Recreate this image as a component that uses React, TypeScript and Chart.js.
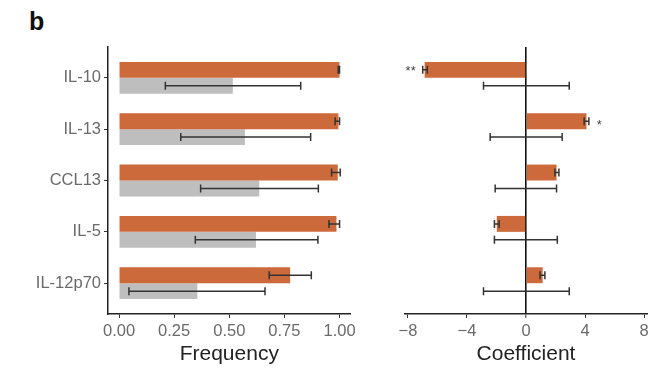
import React, { useEffect, useRef } from 'react';
import { Chart, registerables } from 'chart.js';

Chart.register(...registerables);

const cytokines = ['IL-10', 'IL-13', 'CCL13', 'IL-5', 'IL-12p70'];

const freqCase = [1.0, 0.995, 0.992, 0.986, 0.776];
const freqCaseLo = [0.994, 0.98, 0.964, 0.952, 0.681];
const freqCaseHi = [1.0, 1.0, 1.003, 1.0, 0.872];
const freqCtrl = [0.516, 0.571, 0.636, 0.621, 0.355];
const freqCtrlLo = [0.21, 0.28, 0.37, 0.346, 0.045];
const freqCtrlHi = [0.824, 0.869, 0.904, 0.902, 0.662];

const coefCase = [-6.87, 4.1, 2.07, -1.98, 1.13];
const coefCaseLo = [-7.0, 3.94, 1.96, -2.14, 0.95];
const coefCaseHi = [-6.69, 4.26, 2.23, -1.82, 1.28];
const coefCtrl = [0, 0, 0, 0, 0];
const coefCtrlLo = [-2.88, -2.43, -2.09, -2.14, -2.88];
const coefCtrlHi = [2.93, 2.45, 2.07, 2.12, 2.93];
const significance = ['**', '*', '', '', ''];

const freqTicks = [0, 0.25, 0.5, 0.75, 1];
const coefTicks = [-8, -4, 0, 4, 8];

const ORANGE = '#CC6A3C';
const GREY = '#BEBEBE';
const ERR = '#333333';
const FONT = '"Liberation Sans", Arial, Helvetica, sans-serif';
const TICK_COLOR = '#6a6a6a';
const TICK_SIZE = 16.5;
const TITLE_SIZE = 21;

const errorBarPlugin = {
  id: 'errorBars',
  afterDatasetsDraw(chart: any) {
    const ctx = chart.ctx;
    const xs = chart.scales.x;
    chart.data.datasets.forEach((ds: any, i: number) => {
      if (!ds.errLo) return;
      const meta = chart.getDatasetMeta(i);
      meta.data.forEach((bar: any, j: number) => {
        const y = bar.y;
        const x1 = xs.getPixelForValue(ds.errLo[j]);
        const x2 = xs.getPixelForValue(ds.errHi[j]);
        ctx.save();
        ctx.strokeStyle = ERR;
        ctx.lineWidth = 1.5;
        ctx.beginPath();
        ctx.moveTo(x1, y);
        ctx.lineTo(x2, y);
        ctx.moveTo(x1, y - 4);
        ctx.lineTo(x1, y + 4);
        ctx.moveTo(x2, y - 4);
        ctx.lineTo(x2, y + 4);
        ctx.stroke();
        if (ds.sig && ds.sig[j]) {
          ctx.fillStyle = '#444';
          ctx.font = `13px ${FONT}`;
          ctx.textBaseline = 'middle';
          const v = ds.data[j].x;
          if (v < 0) {
            ctx.textAlign = 'right';
            ctx.fillText(ds.sig[j], Math.min(x1, x2) - 7, y + 2);
          } else {
            ctx.textAlign = 'left';
            ctx.fillText(ds.sig[j], Math.max(x1, x2) + 8, y + 4);
          }
        }
        ctx.restore();
      });
    });
  },
};

function yScale(display: boolean) {
  return {
    type: 'linear' as const,
    reverse: true,
    min: -0.6,
    max: 4.6,
    offset: false,
    display,
    afterBuildTicks: (s: any) => {
      s.ticks = cytokines.map((_, i) => ({ value: i }));
    },
    afterFit: (s: any) => {
      if (display) s.width = 108;
    },
    ticks: {
      callback: (v: any) => cytokines[v] ?? '',
      color: TICK_COLOR,
      font: { size: TICK_SIZE, family: FONT },
      padding: 3,
    },
    grid: {
      display: true,
      offset: false,
      drawOnChartArea: false,
      drawTicks: true,
      tickLength: 4,
      tickColor: '#333',
      tickWidth: 1,
    },
    border: { display: true, color: '#222', width: 1.5 },
  };
}

function xScale(min: number, max: number, tickVals: number[], fmt: (v: number) => string, title: string, zeroLine: boolean) {
  return {
    type: 'linear' as const,
    min,
    max,
    offset: false,
    z: zeroLine ? 1 : 0,
    afterBuildTicks: (s: any) => {
      s.ticks = tickVals.map((v) => ({ value: v }));
    },
    afterFit: (s: any) => {
      s.height = 56;
    },
    ticks: {
      callback: (v: any) => fmt(Number(v)),
      color: TICK_COLOR,
      font: { size: TICK_SIZE, family: FONT },
      padding: 4,
      maxRotation: 0,
      autoSkip: false,
    },
    grid: {
      display: true,
      offset: false,
      drawOnChartArea: zeroLine,
      drawTicks: true,
      tickLength: 4,
      tickColor: '#333',
      tickWidth: 1,
      color: (c: any) => (zeroLine && c.tick && c.tick.value === 0 ? '#111' : 'rgba(0,0,0,0)'),
      lineWidth: (c: any) => (zeroLine && c.tick && c.tick.value === 0 ? 1.6 : 1),
    },
    border: { display: true, color: '#222', width: 1.5 },
    title: {
      display: true,
      text: title,
      color: '#222',
      font: { size: TITLE_SIZE, family: FONT },
      padding: { top: 0, bottom: 3 },
    },
  };
}

function FreqChart() {
  const ref = useRef<HTMLCanvasElement>(null);
  useEffect(() => {
    if (!ref.current) return;
    const chart = new Chart(ref.current, {
      type: 'bar',
      data: {
        datasets: [
          {
            data: freqCase.map((v, i) => ({ x: v, y: i })),
            backgroundColor: ORANGE,
            borderWidth: 0,
            errLo: freqCaseLo,
            errHi: freqCaseHi,
          } as any,
          {
            data: freqCtrl.map((v, i) => ({ x: v, y: i })),
            backgroundColor: GREY,
            borderWidth: 0,
            errLo: freqCtrlLo,
            errHi: freqCtrlHi,
          } as any,
        ],
      },
      options: {
        indexAxis: 'y',
        animation: false,
        responsive: true,
        maintainAspectRatio: false,
        categoryPercentage: 0.62,
        barPercentage: 1.0,
        layout: { padding: { top: 47, right: 9, left: 0, bottom: 0 } },
        plugins: { legend: { display: false }, tooltip: { enabled: false } },
        scales: {
          x: xScale(-0.05, 1.05, freqTicks, (v) => v.toFixed(2), 'Frequency', false) as any,
          y: yScale(true) as any,
        },
      } as any,
      plugins: [errorBarPlugin],
    });
    return () => chart.destroy();
  }, []);
  return <canvas ref={ref} />;
}

function CoefChart() {
  const ref = useRef<HTMLCanvasElement>(null);
  useEffect(() => {
    if (!ref.current) return;
    const chart = new Chart(ref.current, {
      type: 'bar',
      data: {
        datasets: [
          {
            data: coefCase.map((v, i) => ({ x: v, y: i })),
            backgroundColor: ORANGE,
            borderWidth: 0,
            errLo: coefCaseLo,
            errHi: coefCaseHi,
            sig: significance,
          } as any,
          {
            data: coefCtrl.map((v, i) => ({ x: v, y: i })),
            backgroundColor: GREY,
            borderWidth: 0,
            errLo: coefCtrlLo,
            errHi: coefCtrlHi,
          } as any,
        ],
      },
      options: {
        indexAxis: 'y',
        animation: false,
        responsive: true,
        maintainAspectRatio: false,
        categoryPercentage: 0.62,
        barPercentage: 1.0,
        layout: { padding: { top: 47, right: 7, left: 45, bottom: 0 } },
        plugins: { legend: { display: false }, tooltip: { enabled: false } },
        scales: {
          x: xScale(-8.2, 8.2, coefTicks, (v) => (v < 0 ? '\u2212' + Math.abs(v) : String(v)), 'Coefficient', true) as any,
          y: yScale(false) as any,
        },
      } as any,
      plugins: [errorBarPlugin],
    });
    return () => chart.destroy();
  }, []);
  return <canvas ref={ref} />;
}

export default function App() {
  return (
    <div
      style={{
        position: 'fixed',
        left: 0,
        top: 0,
        width: 654,
        height: 370,
        background: '#fff',
        fontFamily: FONT,
      }}
    >
      <div
        style={{
          position: 'absolute',
          left: 29,
          top: 9,
          fontSize: 25,
          lineHeight: '25px',
          fontWeight: 'bold',
          color: '#111',
        }}
      >
        b
      </div>
      <div style={{ position: 'absolute', left: 0, top: 0, width: 360, height: 370 }}>
        <FreqChart />
      </div>
      <div style={{ position: 'absolute', left: 360, top: 0, width: 294, height: 370 }}>
        <CoefChart />
      </div>
    </div>
  );
}
